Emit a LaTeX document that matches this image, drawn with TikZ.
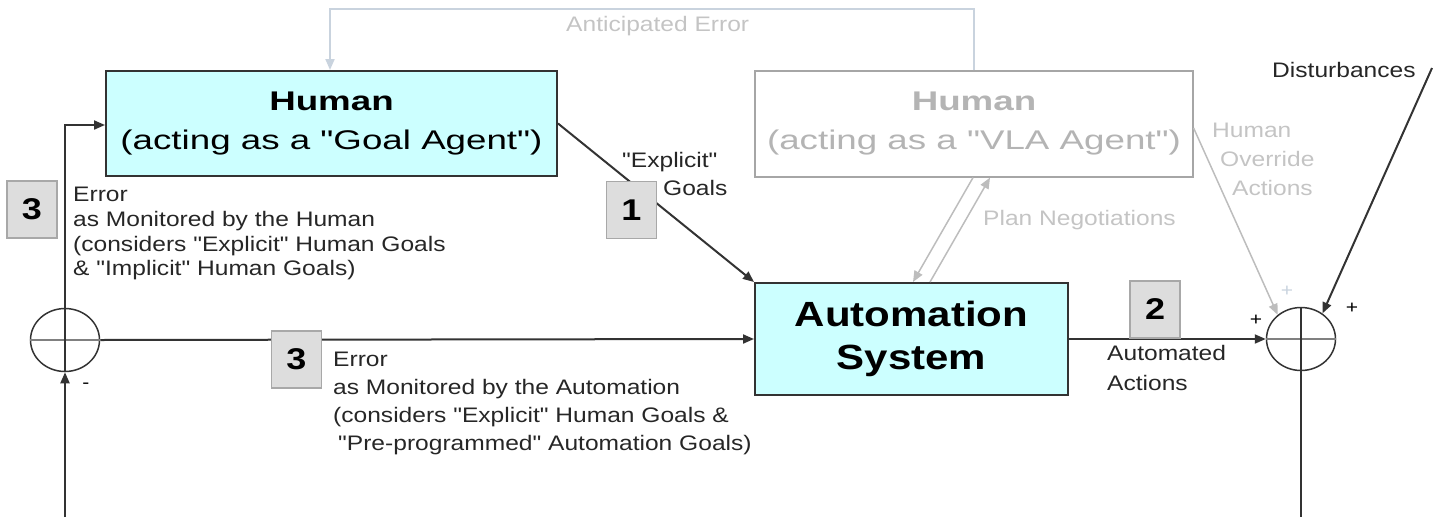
\documentclass[tikz,border=0pt]{standalone}
\usepackage{fontspec}
\setmainfont{Liberation Sans}
\newfontfamily\boxfont{Liberation Sans}[FakeStretch=1.36]
\newfontfamily\autofont{Liberation Sans}[FakeStretch=1.2]
\newfontfamily\lblfont{Liberation Sans}[FakeStretch=1.17]
\usetikzlibrary{arrows.meta,shapes.geometric,calc}

\definecolor{boxcyan}{HTML}{CCFFFF}
\definecolor{linedark}{HTML}{333333}
\definecolor{lbltext}{HTML}{262626}
\definecolor{ghostline}{HTML}{A6A6A6}
\definecolor{ghosttext}{HTML}{B4B4B4}
\definecolor{softline}{HTML}{BDBDBD}
\definecolor{softtext}{HTML}{C4C4C4}
\definecolor{antline}{HTML}{C9D3DE}
\definecolor{numfill}{HTML}{DDDDDD}
\definecolor{numline}{HTML}{A8A8A8}
\definecolor{crossline}{HTML}{808080}

\begin{document}
\begin{tikzpicture}[x=1pt,y=-1pt,
  agent/.style={draw=linedark, line width=2pt, fill=boxcyan, inner sep=0pt,
    align=center, text=black},
  ghost/.style={draw=ghostline, line width=1.2pt, fill=white, inner sep=0pt,
    align=center, text=ghosttext},
  numbox/.style={draw=numline, line width=1.5pt, fill=numfill, inner sep=0pt,
    minimum width=50pt, minimum height=57pt, text=black,
    font=\autofont\bfseries\fontsize{30}{30}\selectfont},
  lbl/.style={inner sep=0pt, align=left, text=lbltext,
    font=\lblfont\fontsize{21}{24.7}\selectfont},
  softlbl/.style={lbl, text=softtext},
  sumjn/.style={ellipse, draw=linedark, line width=1.5pt, minimum width=69pt,
    minimum height=63pt, inner sep=0pt},
  tip/.style={-{Triangle[length=11pt,width=9pt]}},
  flow/.style={draw=linedark, line width=2pt, tip},
  softflow/.style={draw=softline, line width=1.5pt, tip},
  cross/.style={draw=crossline, line width=1.5pt},
  sign/.style={inner sep=0pt, font=\lblfont\fontsize{18}{18}\selectfont}
]
\useasboundingbox (0,0) rectangle (1440,517);

% ---- blocks ----
\node[agent, minimum width=451pt, minimum height=105pt,
      font=\boxfont\fontsize{27}{39}\selectfont]
  (goal) at (331.5,123.5) {\bfseries Human\\(acting as a "Goal Agent")};
\node[ghost, minimum width=438pt, minimum height=106pt,
      font=\boxfont\fontsize{27}{39}\selectfont]
  (vla) at (974,124) {\bfseries Human\\(acting as a "VLA Agent")};
\node[agent, minimum width=313pt, minimum height=112pt,
      font=\autofont\bfseries\fontsize{35}{43}\selectfont]
  (auto) at (911.5,339) {Automation\\System};

% ---- summing junctions ----
\node[sumjn] (sumL) at (65,340) {};
\node[sumjn] (sumR) at (1301,339) {};
\draw[cross] (sumL.west) -- (sumL.east);
\draw[cross] (sumR.west) -- (sumR.east);
\draw[draw=linedark, line width=1.5pt] (sumR.north) -- (sumR.south);

\coordinate (fbin) at (65,517);
\coordinate (outR) at (1301,517);
\coordinate (dist) at (1432,68);

% ---- connectors ----
\draw[flow] (fbin) -- (sumL.south);
\draw[draw=linedark, line width=2pt] (sumL.south) -- (sumL.north);
\draw[flow] (sumL.north) |- ([yshift=-1.5pt]goal.west);
\draw[flow] (sumL.east) -- (auto.west);
\draw[flow] (goal.east) -- (auto.north west);
\draw[flow] (auto.east) -- (sumR.west);
\draw[draw=linedark, line width=2pt] (sumR.south) -- (outR);
\draw[flow] (dist) -- (sumR.50);
\draw[softflow] ([yshift=-4pt]vla.east) -- (sumR.134);
\draw[softflow] ([xshift=-1pt]vla.south) -- ([xshift=1.5pt]auto.north);
\draw[softflow] ([xshift=18.5pt]auto.north) -- ([xshift=16pt]vla.south);
\draw[draw=antline, line width=2pt, tip]
  (vla.north) -- ++(0,-61) -| ([xshift=-1.5pt]goal.north);

% ---- step markers ----
\node[numbox] (n3a) at (32,209.5) {3};
\node[numbox] (n1) at (631.5,210) {1};
\node[numbox] (n3b) at (296.5,359.5) {3};
\node[numbox] (n2) at (1155,309.5) {2};

% ---- labels ----
\node[softlbl, anchor=north west] (lant) at (566,16) {Anticipated Error};
\node[lbl, anchor=north west] (lerrh) at (73,187)
  {Error\\as Monitored by the Human\\(considers "Explicit" Human Goals\\\& "Implicit" Human Goals)};
\node[lbl, anchor=north west, font=\lblfont\fontsize{21}{28}\selectfont] (lerra) at (333,352)
  {Error\\as Monitored by the Automation\\(considers "Explicit" Human Goals \&\\\hspace*{5pt}"Pre-programmed" Automation Goals)};
\node[lbl, anchor=north west, font=\lblfont\fontsize{21}{28}\selectfont] (lgoals) at (622,152)
  {"Explicit"\\\hspace*{41pt}Goals};
\node[softlbl, anchor=north west] (lplan) at (983,210) {Plan Negotiations};
\node[softlbl, anchor=north west, font=\lblfont\fontsize{21}{29}\selectfont] (lover) at (1212,123)
  {Human\\\hspace*{8pt}Override\\\hspace*{20pt}Actions};
\node[lbl, anchor=north west, font=\lblfont\fontsize{21}{30}\selectfont] (lauto) at (1107,345)
  {Automated\\Actions};
\node[lbl, anchor=north west, font=\lblfont\fontsize{21}{21}\selectfont] (ldist) at (1272,62)
  {Disturbances};

% ---- junction signs ----
\node[sign] (sminus) at (86,386) {-};
\node[sign] (splus1) at (1256,320) {+};
\node[sign, text=antline] (splus2) at (1287,291) {+};
\node[sign] (splus3) at (1352,308) {+};
\end{tikzpicture}
\end{document}
